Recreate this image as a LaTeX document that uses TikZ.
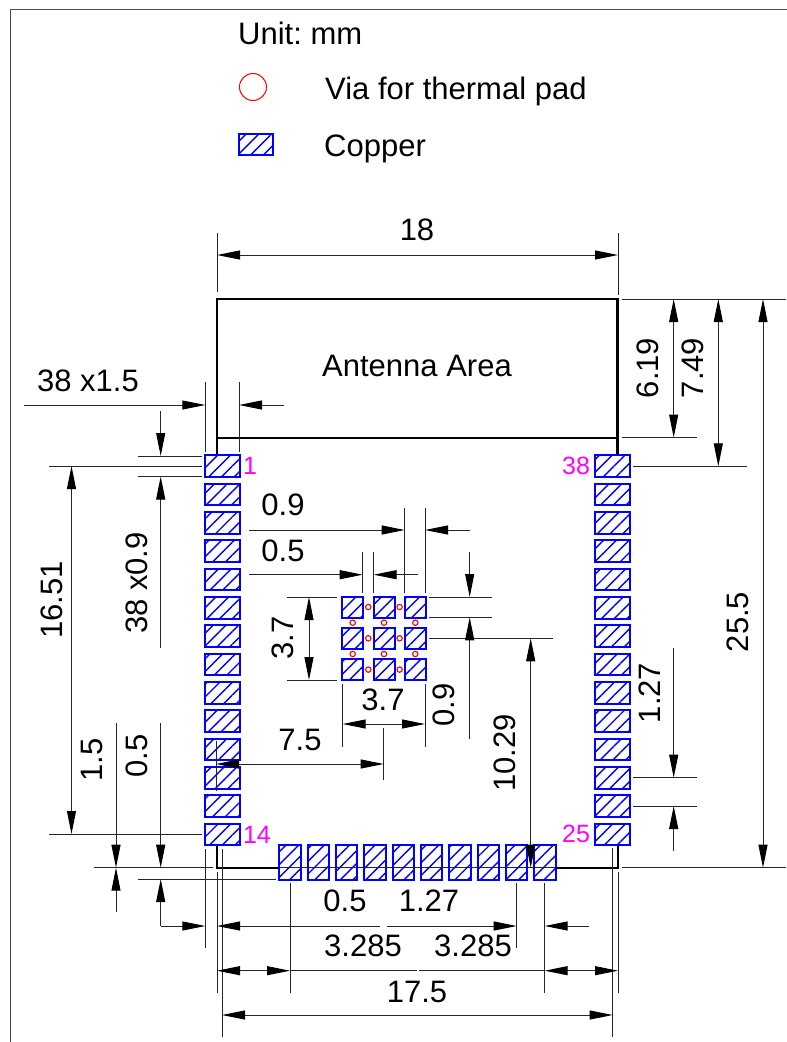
\documentclass[tikz,border=0pt]{standalone}
\usepackage{fontspec}
\setmainfont{Liberation Sans}
\usetikzlibrary{arrows.meta,patterns.meta}
\definecolor{padblue}{RGB}{0,0,255}
\definecolor{viared}{RGB}{255,0,0}
\definecolor{pinpink}{RGB}{255,0,255}
\tikzset{
  dimtext/.style={inner sep=0pt,font=\fontsize{31}{33}\selectfont\frenchspacing},
  pinlabel/.style={inner sep=0pt,text=pinpink,font=\fontsize{25}{27}\selectfont},
  dimline/.style={line width=1pt,draw=black!85},
  dimend/.style={dimline,-{Triangle[length=23pt,width=9pt,black]}},
  dimboth/.style={dimline,{Triangle[length=23pt,width=9pt,black]}-{Triangle[length=23pt,width=9pt,black]}},
  outline/.style={line width=2.2pt,draw=black},
  padbox/.style={draw=padblue,line width=2pt,inner sep=0pt,outer sep=0pt,
    pattern={Lines[angle=45,distance=9pt,line width=1.4pt]},pattern color=padblue},
  padwide/.style={padbox,minimum width=35pt,minimum height=21.5pt},
  padtall/.style={padbox,minimum width=21.5pt,minimum height=35pt},
  padsquare/.style={padbox,minimum width=21pt,minimum height=21pt},
  viahole/.style={draw=viared,line width=1.1pt}
}
\begin{document}
\begin{tikzpicture}[x=1pt,y=-1pt]
\useasboundingbox (0,0) rectangle (787,1042);
% frame
\draw [line width=1pt,draw=black!70] (787,9.5) -- (10,9.5) -- (10,1042);
% legend
\node [dimtext,anchor=west] (unit) at (238,33) {Unit: mm};
\draw [viared,line width=1pt] (253,87) circle (13.5);
\node [dimtext,anchor=west] (vianote) at (325,91.5) {Via for thermal pad};
\node [padbox,minimum width=34pt,minimum height=21pt] (legendpad) at (256,144.5) {};
\node [dimtext,anchor=west] (coppernote) at (324,148.5) {Copper};
% board outline
\draw [dimline] (217,867.7) -- (618,867.7);
\draw [outline] (217,455) -- (217,299) -- (617.5,299) -- (617.5,455);
\draw [outline] (217,438) -- (617.5,438);
\draw [outline] (217,845) -- (217,867.7) -- (279,867.7);
\draw [outline] (556,867.7) -- (618,867.7) -- (618,845);
\node [dimtext] (antenna) at (417,366) {Antenna Area};
% side pads
\foreach \i in {0,...,13} {
  \node [padwide] (padl\i) at (222.5,{466.2+28.33*\i}) {};
  \node [padwide] (padr\i) at (612.5,{466.2+28.33*\i}) {};
}
% bottom pads
\foreach \i in {0,...,9} {
  \node [padtall] (padb\i) at ({290+28.33*\i},862.7) {};
}
% thermal pads
\foreach \i in {0,1,2} {
  \foreach \j in {0,1,2} {
    \node [padsquare] (padc\i\j) at ({352.7+31.3*\i},{607+31.3*\j}) {};
  }
}
\foreach \j in {0,1,2} {
  \draw [viahole] (368.3,{607+31.3*\j}) circle (2.7);
  \draw [viahole] (399.6,{607+31.3*\j}) circle (2.7);
}
\foreach \i in {0,1,2} {
  \draw [viahole] ({352.7+31.3*\i},622.7) circle (2.7);
  \draw [viahole] ({352.7+31.3*\i},654) circle (2.7);
}
% pin numbers
\node [pinlabel] (pinone) at (250,466) {1};
\node [pinlabel] (pinfourteen) at (257,835) {14};
\node [pinlabel] (pinthirtyeight) at (576,466) {38};
\node [pinlabel] (pintwentyfive) at (576,834) {25};
% top dimensions
\draw [dimline] (217,233) -- (217,292);
\draw [dimline] (618,233) -- (618,295);
\draw [dimboth] (217,255) -- (618,255);
\node [dimtext] (widthlabel) at (417,230) {18};
% right dimensions
\draw [dimline] (622,299) -- (786,299);
\draw [dimline] (622,437.5) -- (697,437.5);
\draw [dimline] (633,466.3) -- (747,466.3);
\draw [dimline] (622,867.7) -- (786,867.7);
\draw [dimboth] (673.7,299) -- (673.7,437.5);
\draw [dimboth] (718.3,299) -- (718.3,466.3);
\draw [dimboth] (763,299) -- (763,867.7);
\node [dimtext,rotate=90] (antheight) at (648,368) {6.19};
\node [dimtext,rotate=90] (padoffset) at (693,368) {7.49};
\node [dimtext,rotate=90] (boardheight) at (738,622) {25.5};
% pin pitch on the right
\draw [dimline] (633,777.7) -- (697,777.7);
\draw [dimline] (633,806) -- (697,806);
\draw [dimend] (673.7,648) -- (673.7,777.7);
\draw [dimend] (673.7,851) -- (673.7,806);
\node [dimtext,rotate=90] (pitchright) at (650,693) {1.27};
% pad length
\node [dimtext] (padlength) at (88,381) {38 x1.5};
\draw [dimline] (205.3,382) -- (205.3,452);
\draw [dimline] (239,382) -- (239,452);
\draw [dimend] (24,405) -- (205.3,405);
\draw [dimend] (284,405) -- (239,405);
% pad width and left dimensions
\draw [dimline] (138,456) -- (202,456);
\draw [dimline] (49,466) -- (202,466);
\draw [dimline] (138,476.5) -- (202,476.5);
\draw [dimline] (49,834) -- (202,834);
\draw [dimline] (94,867.7) -- (212.5,867.7);
\draw [dimline] (138,879) -- (276,879);
\draw [dimend] (160.7,411) -- (160.7,456);
\draw [dimend] (160.7,648) -- (160.7,476.5);
\node [dimtext,rotate=90] (padwidth) at (137,583) {38 x0.9};
\draw [dimboth] (71.5,466) -- (71.5,834);
\node [dimtext,rotate=90] (leftspan) at (52,600) {16.51};
\draw [dimend] (116,723) -- (116,867.7);
\draw [dimend] (116,912) -- (116,867.7);
\node [dimtext,rotate=90] (edgeleft) at (92,760) {1.5};
\draw [dimend] (160.7,723) -- (160.7,867.7);
\draw [dimend] (160.7,926) -- (160.7,879);
\node [dimtext,rotate=90] (edgebottom) at (137,756) {0.5};
% bottom dimensions
\draw [dimline] (205.3,849) -- (205.3,948);
\draw [dimline] (222,849) -- (222,1037);
\draw [dimline] (217,872) -- (217,993);
\draw [dimline] (290,883) -- (290,993);
\draw [dimline] (516.7,883) -- (516.7,948);
\draw [dimline] (544.7,883) -- (544.7,993);
\draw [dimline] (618,872) -- (618,993);
\draw [dimline] (612.7,848) -- (612.7,1037);
\draw [dimend] (160.7,926) -- (205.3,926);
\draw [dimline,{Triangle[length=23pt,width=9pt,black]}-] (217,926) -- (380,926);
\draw [dimend] (387,926) -- (516.7,926);
\draw [dimend] (589.3,926) -- (544.7,926);
\node [dimtext] (bottomedge) at (345,901) {0.5};
\node [dimtext] (bottompitch) at (429,901) {1.27};
\draw [dimboth] (217,970.7) -- (290,970.7);
\draw [dimline] (290,970.7) -- (417,970.7);
\draw [dimline] (419,970.7) -- (544.7,970.7);
\draw [dimboth] (544.7,970.7) -- (618,970.7);
\node [dimtext] (marginleft) at (363,946) {3.285};
\node [dimtext] (marginright) at (473,946) {3.285};
\draw [dimboth] (222,1015) -- (612.7,1015);
\node [dimtext] (spanlabel) at (417,992) {17.5};
% thermal pad dimensions
\draw [dimline] (404.7,507.7) -- (404.7,592.7);
\draw [dimline] (425,507.7) -- (425,592.7);
\draw [dimend] (249,530) -- (404.7,530);
\draw [dimend] (470,530) -- (425,530);
\node [dimtext] (thermalsize) at (283,505) {0.9};
\draw [dimline] (362.7,552.3) -- (362.7,592.7);
\draw [dimline] (373.7,552.3) -- (373.7,592.7);
\draw [dimend] (249,574.7) -- (362.7,574.7);
\draw [dimend] (418.3,574.7) -- (373.7,574.7);
\node [dimtext] (thermalgap) at (283,551) {0.5};
\draw [dimline] (286.7,597) -- (337,597);
\draw [dimline] (286.7,680) -- (337,680);
\draw [dimboth] (309,597) -- (309,680);
\node [dimtext,rotate=90] (thermalh) at (283,638) {3.7};
\draw [dimline] (342.7,684) -- (342.7,746.7);
\draw [dimline] (425,684) -- (425,746.7);
\draw [dimboth] (342.7,724) -- (425,724);
\node [dimtext] (thermalw) at (383,700) {3.7};
\draw [dimline] (383.7,728) -- (383.7,780);
\draw [dimline] (216,741) -- (216,791);
\draw [dimboth] (216,764) -- (383.7,764);
\node [dimtext] (thermalx) at (300,740) {7.5};
\draw [dimline] (429,597) -- (492.3,597);
\draw [dimline] (429,617.3) -- (492.3,617.3);
\draw [dimline] (429,638.3) -- (553.3,638.3);
\draw [dimend] (469.7,552.3) -- (469.7,597);
\draw [dimend] (469.7,739.3) -- (469.7,617.3);
\node [dimtext,rotate=90] (thermalv) at (444,705) {0.9};
\draw [dimboth] (530.7,638.3) -- (530.7,867.7);
\node [dimtext,rotate=90] (thermaly) at (505,753) {10.29};
\end{tikzpicture}
\end{document}
